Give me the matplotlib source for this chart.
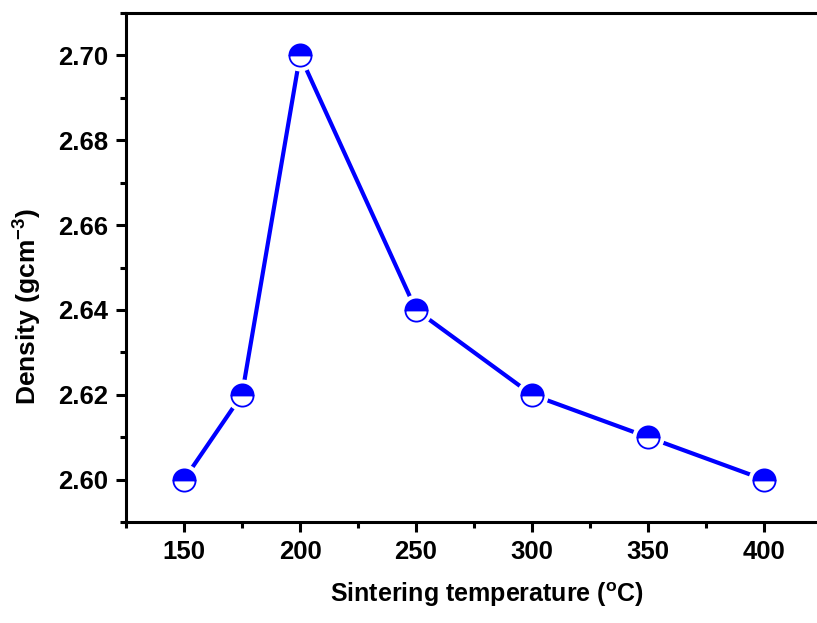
import matplotlib
matplotlib.use("Agg")
import matplotlib.pyplot as plt
from matplotlib.ticker import MultipleLocator

plt.rcParams['font.family'] = ['Liberation Sans', 'DejaVu Sans']
plt.rcParams['font.weight'] = 'bold'
plt.rcParams['mathtext.fontset'] = 'custom'
plt.rcParams['mathtext.rm'] = 'Liberation Sans:bold'
plt.rcParams['mathtext.it'] = 'Liberation Sans:bold'
plt.rcParams['mathtext.bf'] = 'Liberation Sans:bold'

# sintering temperature (C) vs density
temperature = [150, 175, 200, 250, 300, 350, 400]
density = [2.60, 2.62, 2.70, 2.64, 2.62, 2.61, 2.60]

W, H = 817, 623
fig = plt.figure(figsize=(W / 100, H / 100), dpi=100)
# axes runs a bit past the right edge (picture is cropped there)
ax = fig.add_axes([126 / W, 1 - 522 / H, 696 / W, 509 / H])

blue = '#0000ff'
ax.plot(temperature, density, color=blue, lw=3, zorder=2)
# white halo so the line stops short of each marker
ax.plot(temperature, density, ls='none', marker='o', ms=22, mfc='white', mec='white', zorder=3)
ax.plot(temperature, density, ls='none', marker='o', ms=16, fillstyle='top',
        mfc=blue, mfcalt='white', mec=blue, mew=1.3, zorder=4)

ax.set_xlim(125, 425)
ax.set_ylim(2.59, 2.71)
ax.xaxis.set_major_locator(MultipleLocator(50))
ax.xaxis.set_minor_locator(MultipleLocator(25))
ax.yaxis.set_major_locator(MultipleLocator(0.02))
ax.yaxis.set_minor_locator(MultipleLocator(0.01))
ax.yaxis.set_major_formatter(plt.FormatStrFormatter('%.2f'))

for s in ['left', 'bottom', 'top', 'right']:
    ax.spines[s].set_linewidth(2.2)
ax.tick_params(which='major', direction='out', length=7, width=2.2, labelsize=18.5, pad=6,
               top=False, right=False)
ax.tick_params(which='minor', direction='out', length=4.5, width=2.2, top=False, right=False)
for lab in ax.get_xticklabels() + ax.get_yticklabels():
    lab.set_fontweight('bold')

ax.set_xlabel('Sintering temperature ($^{o}$C)', fontsize=18, fontweight='bold')
ax.set_ylabel('Density (gcm$^{-3}$)', fontsize=19, fontweight='bold')
ax.xaxis.set_label_coords(0.519, -0.114)
ax.yaxis.set_label_coords(-0.118, 0.424)

fig.savefig('out.png', dpi=100)
